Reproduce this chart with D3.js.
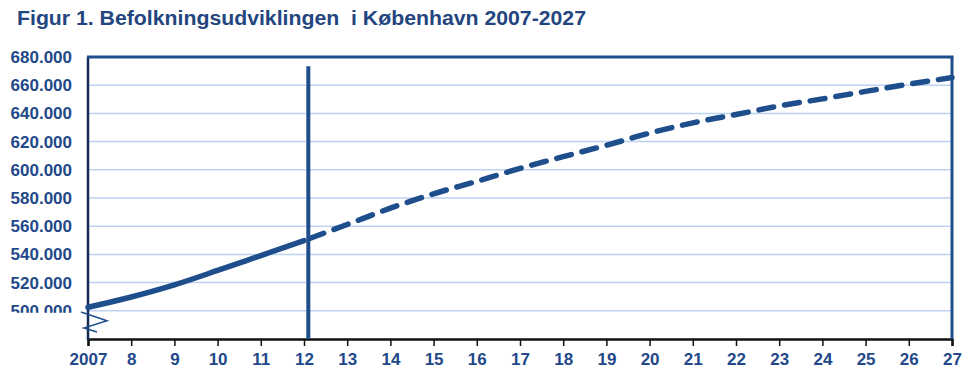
<!DOCTYPE html>
<html>
<head>
<meta charset="utf-8">
<script src="https://cdn.jsdelivr.net/npm/d3@7"></script>
<style>
  html, body { margin: 0; padding: 0; background: #fff; }
  svg { display: block; }
  text { font-family: "Liberation Sans", Arial, sans-serif; font-weight: bold; }
</style>
</head>
<body>
<svg id="chart" width="980" height="372"></svg>
<script>
// ---- data ----
const titleText = "Figur 1. Befolkningsudviklingen  i København 2007-2027";
const yearsActual = [2007, 2008, 2009, 2010, 2011, 2012];
const valuesActual = [502500, 509800, 518400, 528600, 539200, 549800];
const yearsForecast = [2012, 2013, 2014, 2015, 2016, 2017, 2018, 2019, 2020, 2021, 2022, 2023, 2024, 2025, 2026, 2027];
const valuesForecast = [549800, 561200, 572800, 583000, 591800, 601000, 609300, 617400, 626000, 633300, 639200, 645300, 650300, 655600, 660700, 665400];
const xTickYears = [2007, 2008, 2009, 2010, 2011, 2012, 2013, 2014, 2015, 2016, 2017, 2018, 2019, 2020, 2021, 2022, 2023, 2024, 2025, 2026, 2027];
const xTickLabels = ["2007", "8", "9", "10", "11", "12", "13", "14", "15", "16", "17", "18", "19", "20", "21", "22", "23", "24", "25", "26", "27"];
const yTickValues = [500000, 520000, 540000, 560000, 580000, 600000, 620000, 640000, 660000, 680000];
const yDomain = [480000, 680000];
const dividerYear = 2012.1;
const dividerTop = 673500;

// ---- styles ----
const navy = "#1F4E8C";
const textColor = "#22488A";
const gridColor = "#BDD1F1";

const svg = d3.select("#chart");
const x = d3.scaleLinear().domain([2007, 2027]).range([88, 952]);
const y = d3.scaleLinear().domain(yDomain).range([339, 57]);

const locale = d3.formatLocale({ decimal: ",", thousands: ".", grouping: [3], currency: ["", ""] });
const fmt = locale.format(",");

// title
svg.append("text")
  .attr("x", 17).attr("y", 25)
  .attr("font-size", 20)
  .attr("fill", "#24467F")
  .attr("textLength", 569)
  .attr("lengthAdjust", "spacingAndGlyphs")
  .style("white-space", "pre")
  .attr("xml:space", "preserve")
  .text(titleText);

// gridlines
svg.append("g")
  .selectAll("line")
  .data(yTickValues.filter(v => v < yDomain[1]))
  .join("line")
  .attr("x1", x(2007)).attr("x2", x(2027))
  .attr("y1", d => y(d)).attr("y2", d => y(d))
  .attr("stroke", gridColor).attr("stroke-width", 1.5);

// y axis labels
const yAxis = d3.axisLeft(y).tickValues(yTickValues).tickFormat(fmt).tickSize(0).tickPadding(16);
const gy = svg.append("g").attr("transform", `translate(${x(2007)},0)`).call(yAxis);
gy.select(".domain").remove();
gy.selectAll("text")
  .attr("font-size", 17)
  .attr("fill", textColor)
  .style("font-family", '"Liberation Sans", Arial, sans-serif')
  .style("font-weight", "bold");

// clip lower part of the lowest label (axis break)
svg.append("rect")
  .attr("x", 0).attr("y", y(500000) + 2)
  .attr("width", x(2007) - 2).attr("height", 26)
  .attr("fill", "#fff");

// x axis
const xAxis = d3.axisBottom(x).tickValues(xTickYears)
  .tickFormat((d, i) => xTickLabels[i]).tickSize(7).tickPadding(7);
const gx = svg.append("g").attr("transform", `translate(0,${y(yDomain[0])})`).call(xAxis);
gx.select(".domain").attr("stroke", "#111").attr("stroke-width", 2.5);
gx.selectAll(".tick line").attr("stroke", "#111").attr("stroke-width", 1.5);
gx.selectAll("text")
  .attr("font-size", 17)
  .attr("fill", textColor)
  .style("font-family", '"Liberation Sans", Arial, sans-serif')
  .style("font-weight", "bold");

// frame: left (dark), top & right (navy)
svg.append("line")
  .attr("x1", x(2007)).attr("x2", x(2007))
  .attr("y1", y(yDomain[1])).attr("y2", y(yDomain[0]) + 1)
  .attr("stroke", "#142b55").attr("stroke-width", 2.5);
svg.append("line")
  .attr("x1", x(2007) - 1).attr("x2", x(2027) + 1.5)
  .attr("y1", y(yDomain[1])).attr("y2", y(yDomain[1]))
  .attr("stroke", navy).attr("stroke-width", 3);
svg.append("line")
  .attr("x1", x(2027)).attr("x2", x(2027))
  .attr("y1", y(yDomain[1])).attr("y2", y(yDomain[0]))
  .attr("stroke", navy).attr("stroke-width", 3);

// axis break zigzag
const bx = x(2007);
const zig = [[bx - 7, y(499200)], [bx + 19, y(493000)], [bx - 4, y(487800)], [bx + 9, y(485000)]];
svg.append("path")
  .attr("d", d3.line()(zig))
  .attr("fill", "none").attr("stroke", navy).attr("stroke-width", 1.5);

// vertical divider
svg.append("line")
  .attr("x1", x(dividerYear)).attr("x2", x(dividerYear))
  .attr("y1", y(dividerTop)).attr("y2", y(yDomain[0]))
  .attr("stroke", navy).attr("stroke-width", 4);

// lines
const lineGen = d3.line().x(d => x(d[0])).y(d => y(d[1])).curve(d3.curveMonotoneX);
svg.append("path")
  .attr("d", lineGen(d3.zip(yearsActual, valuesActual)))
  .attr("fill", "none").attr("stroke", navy).attr("stroke-width", 5.5)
  .attr("stroke-linecap", "round");
svg.append("path")
  .attr("d", lineGen(d3.zip(yearsForecast, valuesForecast)))
  .attr("fill", "none").attr("stroke", navy).attr("stroke-width", 5.5)
  .attr("stroke-dasharray", "15,11")
  .attr("stroke-dashoffset", -6)
  .attr("stroke-linecap", "round");
</script>
</body>
</html>
